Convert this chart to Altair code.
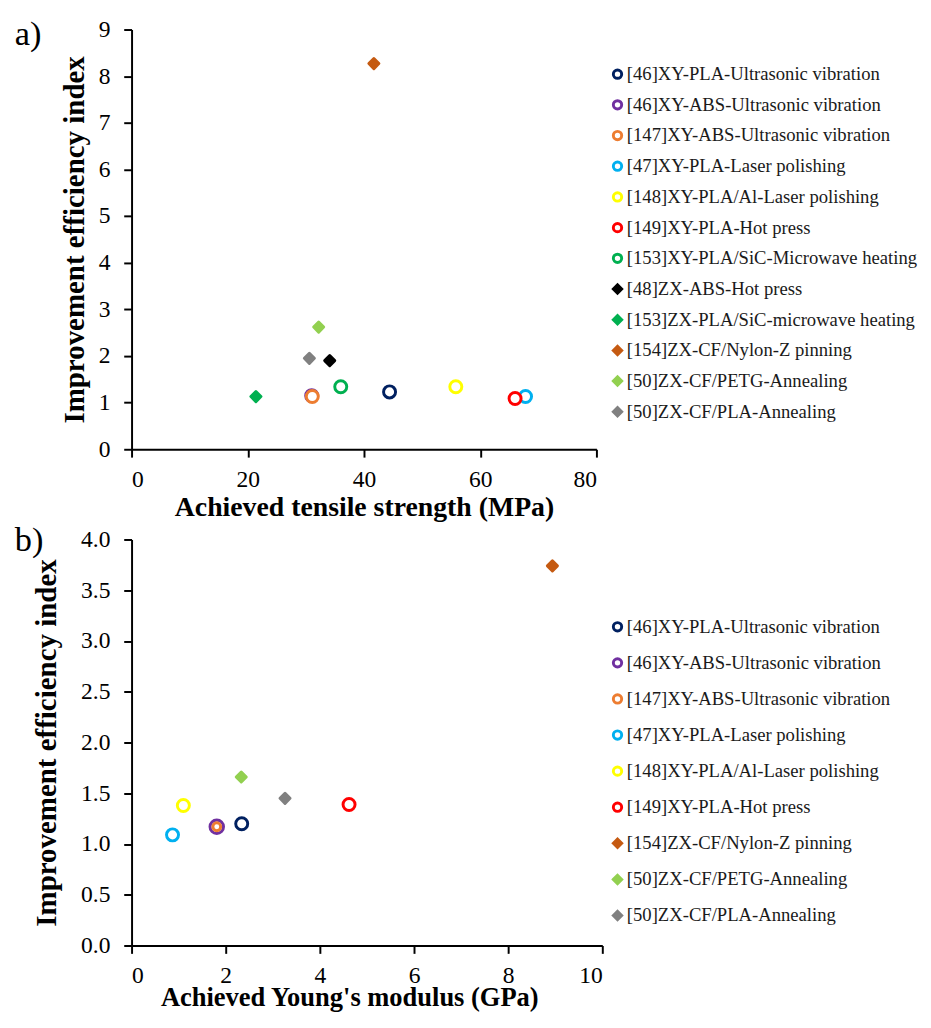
import altair as alt
import pandas as pd

FONT = "Liberation Serif"

# ---- Panel a data ----
series_a = [
    "[46]XY-PLA-Ultrasonic vibration",
    "[46]XY-ABS-Ultrasonic vibration",
    "[147]XY-ABS-Ultrasonic vibration",
    "[47]XY-PLA-Laser polishing",
    "[148]XY-PLA/Al-Laser polishing",
    "[149]XY-PLA-Hot press",
    "[153]XY-PLA/SiC-Microwave heating",
    "[48]ZX-ABS-Hot press",
    "[153]ZX-PLA/SiC-microwave heating",
    "[154]ZX-CF/Nylon-Z pinning",
    "[50]ZX-CF/PETG-Annealing",
    "[50]ZX-CF/PLA-Annealing",
]
x_a = [44.4, 31.0, 31.1, 67.8, 55.8, 66.0, 36.0, 34.1, 21.4, 41.7, 32.2, 30.6]
y_a = [1.23, 1.15, 1.13, 1.13, 1.34, 1.09, 1.34, 1.90, 1.13, 8.27, 2.62, 1.95]
colors_a = ["#002060", "#7030A0", "#ED7D31", "#00B0F0", "#FFFF00", "#FF0000",
            "#00B050", "#000000", "#00B050", "#C55A11", "#92D050", "#808080"]
shapes_a = ["circle"] * 7 + ["diamond"] * 5

# ---- Panel b data ----
series_b = [
    "[46]XY-PLA-Ultrasonic vibration",
    "[46]XY-ABS-Ultrasonic vibration",
    "[147]XY-ABS-Ultrasonic vibration",
    "[47]XY-PLA-Laser polishing",
    "[148]XY-PLA/Al-Laser polishing",
    "[149]XY-PLA-Hot press",
    "[154]ZX-CF/Nylon-Z pinning",
    "[50]ZX-CF/PETG-Annealing",
    "[50]ZX-CF/PLA-Annealing",
]
x_b = [2.34, 1.81, 1.81, 0.87, 1.10, 4.62, 8.94, 2.33, 3.26]
y_b = [1.20, 1.17, 1.17, 1.09, 1.38, 1.39, 3.74, 1.66, 1.45]
colors_b = ["#002060", "#7030A0", "#ED7D31", "#00B0F0", "#FFFF00", "#FF0000",
            "#C55A11", "#92D050", "#808080"]
shapes_b = ["circle"] * 6 + ["diamond"] * 3


def fills(colors, shapes):
    return ["white" if s == "circle" else c for c, s in zip(colors, shapes)]


def sizes(shapes):
    return [150 if s == "circle" else 105 for s in shapes]


df_a = pd.DataFrame({"x": x_a, "y": y_a, "series": series_a})
df_b = pd.DataFrame({"x": x_b, "y": y_b, "series": series_b})

sizes_b = sizes(shapes_b)
sizes_b[1] = 190  # purple ring drawn larger
sizes_b[2] = 64   # orange ring drawn inside


def panel(df, series, colors, shapes, size_range, xdom, xvals, xtitle, xtitle_size, titlex,
          ydom, yvals, yfmt, w, h, label, label_y, ytitle_pad, legend_off, legend_pad,
          row_pad, xtitle_pad):
    legend = alt.Legend(
        title=" ", titleFontSize=10, titlePadding=legend_pad, orient="right", offset=legend_off,
        labelFont=FONT, labelFontSize=19, labelColor="#1a1a1a", labelLimit=500,
        symbolSize=72, symbolStrokeWidth=3, rowPadding=row_pad, labelOffset=0,
        symbolOffset=0, padding=0,
    )
    xaxis = dict(values=xvals, title=xtitle, titlePadding=xtitle_pad, titleFontSize=xtitle_size)
    if titlex is not None:
        xaxis["titleX"] = titlex
    pts = alt.Chart(df).mark_point(filled=False, strokeWidth=3, strokeJoin="round",
                                   opacity=1).encode(
        x=alt.X("x:Q", scale=alt.Scale(domain=xdom, nice=False), axis=alt.Axis(**xaxis)),
        y=alt.Y("y:Q", scale=alt.Scale(domain=ydom, nice=False),
                axis=alt.Axis(values=yvals, format=yfmt, titleFontSize=29.5,
                              title="Improvement efficiency index", titlePadding=ytitle_pad)),
        stroke=alt.Stroke("series:N", scale=alt.Scale(domain=series, range=colors),
                          legend=legend),
        fill=alt.Fill("series:N", scale=alt.Scale(domain=series, range=fills(colors, shapes)),
                      legend=legend),
        shape=alt.Shape("series:N", scale=alt.Scale(domain=series, range=shapes),
                        legend=legend),
        size=alt.Size("series:N",
                      scale=alt.Scale(type="ordinal", domain=series[::-1],
                                      range=size_range[::-1]),
                      legend=None),
    )
    lab = alt.Chart(pd.DataFrame({"t": [label]})).mark_text(
        font=FONT, fontSize=35, align="left", baseline="alphabetic", color="black"
    ).encode(x=alt.value(-119), y=alt.value(label_y), text="t:N")
    return alt.layer(pts, lab).properties(width=w, height=h)


pa = panel(df_a, series_a, colors_a, shapes_a, sizes(shapes_a), [0, 80], [0, 20, 40, 60, 80],
           "Achieved tensile strength (MPa)", 28.3, None, [0, 9], list(range(10)), "d",
           474, 428, "a)", 16, 9, 12, 26, 10.3, 3)
pb = panel(df_b, series_b, colors_b, shapes_b, sizes_b, [0, 10], [0, 2, 4, 6, 8, 10],
           "Achieved Young's modulus (GPa)", 27, 222, [0, 4], [i * 0.5 for i in range(9)], ".1f",
           480, 414, "b)", 12, 20, 6, 69.5, 15.8, -3)

chart = alt.vconcat(pa, pb, spacing=2).resolve_scale(
    stroke="independent", fill="independent", shape="independent", size="independent",
    x="independent", y="independent"
).resolve_legend(
    stroke="independent", fill="independent", shape="independent"
).properties(
    padding={"left": 7, "top": 0, "right": 5, "bottom": 0}
).configure(background="white").configure_axis(
    domainColor="black", domainWidth=2, tickColor="black", tickWidth=2, tickSize=8,
    labelFont=FONT, labelFontSize=24, labelColor="black",
    titleFont=FONT, titleFontWeight="bold", titleColor="black",
    grid=False,
).configure_axisX(labelPadding=11).configure_axisY(labelPadding=14).configure_view(stroke=None)

chart.save("out.html", embed_options={"renderer": "svg", "actions": False})
